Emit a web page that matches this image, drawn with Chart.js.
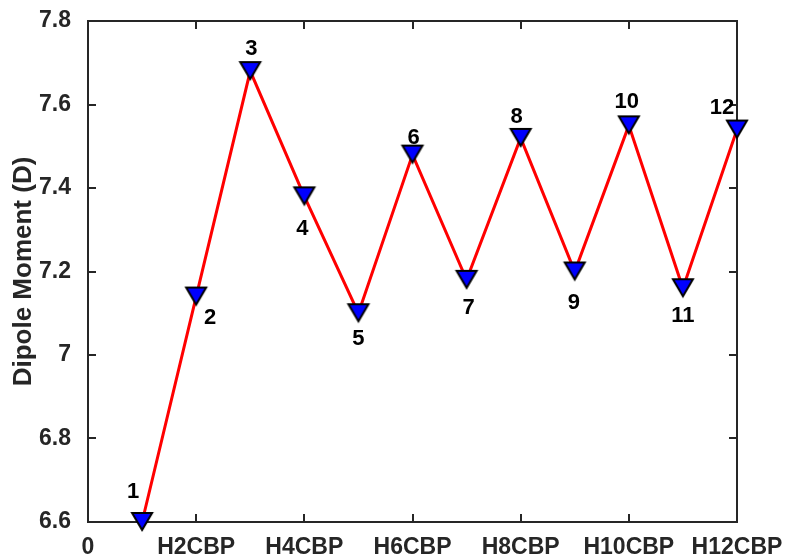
<!DOCTYPE html>
<html>
<head>
<meta charset="utf-8">
<title>Dipole Moment</title>
<script src="https://cdn.jsdelivr.net/npm/chart.js@4.4.1/dist/chart.umd.min.js"></script>
<style>
  html, body { margin: 0; padding: 0; background: #ffffff; }
  #wrap { width: 786px; height: 559px; }
</style>
</head>
<body>
<div id="wrap"><canvas id="c" width="786" height="559"></canvas></div>
<script>
// Molecule index along the series and its dipole moment (Debye)
const molIndex = [1, 2, 3, 4, 5, 6, 7, 8, 9, 10, 11, 12];
const dipole = [6.60, 7.14, 7.68, 7.38, 7.10, 7.48, 7.18, 7.52, 7.20, 7.55, 7.16, 7.54];
const pointLabels = ['1', '2', '3', '4', '5', '6', '7', '8', '9', '10', '11', '12'];
const xTickLabels = ['0', 'H2CBP', 'H4CBP', 'H6CBP', 'H8CBP', 'H10CBP', 'H12CBP'];

// where each index label sits relative to its marker (px)
const labelOffsets = [
  [-9, -32], [14, 19], [1, -24], [-2, 31], [0, 24], [1, -19],
  [2, 26], [-4, -23], [-1, 29], [-2, -25], [0, 26], [-15, -24]
];

const FONT = '"Liberation Sans", Arial, Helvetica, sans-serif';
const AXIS_COLOR = '#262626';

// downward triangle marker: blue fill, black outline
function makeMarker() {
  const cv = document.createElement('canvas');
  cv.width = 26; cv.height = 24;
  const g = cv.getContext('2d');
  g.beginPath();
  g.moveTo(3, 3);
  g.lineTo(23, 3);
  g.lineTo(13, 20);
  g.closePath();
  g.fillStyle = '#0000ff';
  g.fill();
  g.lineWidth = 2;
  g.lineJoin = 'miter';
  g.strokeStyle = '#000000';
  g.stroke();
  return cv;
}

// box around the plot area with inward ticks on all four sides
const axisBox = {
  id: 'axisBox',
  beforeDatasetsDraw(chart) {
    const { ctx, chartArea: a, scales } = chart;
    const len = 8;
    ctx.save();
    ctx.strokeStyle = AXIS_COLOR;
    ctx.lineWidth = 2;
    ctx.beginPath();
    scales.x.ticks.forEach(t => {
      const px = Math.round(scales.x.getPixelForValue(t.value));
      ctx.moveTo(px, a.bottom); ctx.lineTo(px, a.bottom - len);
      ctx.moveTo(px, a.top); ctx.lineTo(px, a.top + len);
    });
    scales.y.ticks.forEach(t => {
      const py = Math.round(scales.y.getPixelForValue(t.value));
      ctx.moveTo(a.left, py); ctx.lineTo(a.left + len, py);
      ctx.moveTo(a.right, py); ctx.lineTo(a.right - len, py);
    });
    ctx.stroke();
    ctx.strokeRect(a.left, a.top, a.right - a.left, a.bottom - a.top);
    ctx.restore();
  }
};

// index number next to each marker
const indexLabels = {
  id: 'indexLabels',
  afterDatasetsDraw(chart) {
    const { ctx } = chart;
    const meta = chart.getDatasetMeta(0);
    ctx.save();
    ctx.font = 'bold 22px ' + FONT;
    ctx.fillStyle = '#000000';
    ctx.textAlign = 'center';
    ctx.textBaseline = 'alphabetic';
    meta.data.forEach((pt, i) => {
      const [dx, dy] = labelOffsets[i];
      ctx.fillText(pointLabels[i], pt.x + dx, pt.y + dy + 8);
    });
    ctx.restore();
  }
};

new Chart(document.getElementById('c'), {
  type: 'line',
  data: {
    datasets: [{
      data: molIndex.map((x, i) => ({ x: x, y: dipole[i] })),
      borderColor: '#ff0000',
      borderWidth: 3,
      tension: 0,
      fill: false,
      pointStyle: makeMarker(),
      pointRadius: 11,
      pointHoverRadius: 11,
      clip: false
    }]
  },
  options: {
    responsive: false,
    devicePixelRatio: 1,
    animation: false,
    events: [],
    layout: { padding: { left: 0, right: 49, top: 21, bottom: 0 } },
    plugins: { legend: { display: false }, tooltip: { enabled: false } },
    scales: {
      x: {
        type: 'linear',
        min: 0,
        max: 12,
        grid: { display: false },
        border: { display: false },
        ticks: {
          stepSize: 2,
          autoSkip: false,
          maxRotation: 0,
          padding: 4,
          color: AXIS_COLOR,
          font: { family: FONT, size: 23, weight: 'bold' },
          callback: (v) => xTickLabels[Math.round(v / 2)]
        },
        afterFit: (s) => {
          s.height = 37;
          s.paddingLeft = 0;
          s.paddingRight = 0;
        }
      },
      y: {
        min: 6.6,
        max: 7.8,
        grid: { display: false },
        border: { display: false },
        ticks: {
          stepSize: 0.2,
          padding: 9,
          color: AXIS_COLOR,
          font: { family: FONT, size: 23, weight: 'bold' },
          callback: (v) => String(Number(v.toFixed(1)))
        },
        title: {
          display: true,
          text: 'Dipole Moment (D)',
          color: AXIS_COLOR,
          font: { family: FONT, size: 26, weight: 'bold' },
          padding: { top: 8, bottom: 0 }
        },
        afterFit: (s) => {
          s.width = 88;
          s.paddingTop = 0;
          s.paddingBottom = 0;
        }
      }
    }
  },
  plugins: [axisBox, indexLabels]
});
</script>
</body>
</html>
